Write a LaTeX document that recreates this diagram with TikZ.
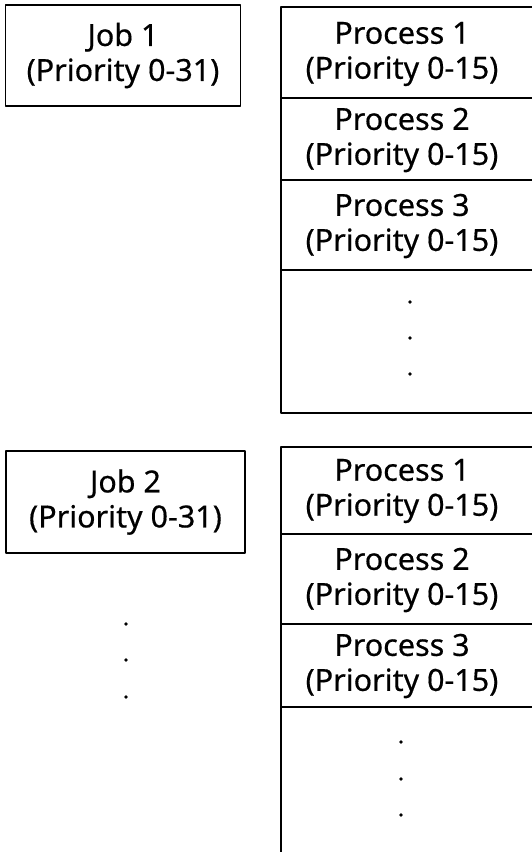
\documentclass[tikz,border=0pt]{standalone}
\usepackage{fontspec}
\newfontfamily\boxfont{Noto Sans}[FakeBold=0.5]
\tikzset{
  every picture/.style={line join=round, line cap=round},
  frame/.style={line width=1.3pt},
  jobbox/.style={draw, frame, minimum width=235pt, minimum height=101pt, align=center, inner sep=0pt, font=\boxfont\fontsize{30.5}{35}\selectfont},
  proctext/.style={align=center, inner sep=0pt, font=\boxfont\fontsize{30.5}{35}\selectfont},
  dotmark/.style={circle, fill, inner sep=0pt, minimum size=3.8pt},
}

\begin{document}
\begin{tikzpicture}[x=1pt,y=1pt]
\useasboundingbox (0,0) rectangle (532,-852);
\clip (0,0) rectangle (532,-852);
% first job and its processes
\node[jobbox] (job1) at (123,-55.5) {Job 1\\(Priority 0-31)};
\draw[frame] (545,-7) -| (281,-413) -- (545,-413);
\draw[frame] (281,-98) -- (545,-98) (281,-180) -- (545,-180) (281,-270) -- (545,-270);
\node[proctext] (p11) at (402,-54) {Process 1\\(Priority 0-15)};
\node[proctext] (p12) at (402,-140) {Process 2\\(Priority 0-15)};
\node[proctext] (p13) at (402,-226) {Process 3\\(Priority 0-15)};
\node[dotmark] (d11) at (410,-302) {};
\node[dotmark] (d12) at (410,-338) {};
\node[dotmark] (d13) at (410,-374) {};
% second job and its processes
\node[jobbox, minimum width=239pt, minimum height=102pt] (job2) at (125.5,-502) {Job 2\\(Priority 0-31)};
\draw[frame] (545,-447) -| (281,-860);
\draw[frame] (281,-534) -- (545,-534) (281,-624) -- (545,-624) (281,-707) -- (545,-707);
\node[proctext] (p21) at (402,-491) {Process 1\\(Priority 0-15)};
\node[proctext] (p22) at (402,-580) {Process 2\\(Priority 0-15)};
\node[proctext] (p23) at (402,-666) {Process 3\\(Priority 0-15)};
\node[dotmark] (d21) at (401,-742) {};
\node[dotmark] (d22) at (401,-779) {};
\node[dotmark] (d23) at (401,-815) {};
% more jobs
\node[dotmark] (j1) at (126,-624) {};
\node[dotmark] (j2) at (126,-660) {};
\node[dotmark] (j3) at (126,-697) {};
\end{tikzpicture}
\end{document}
